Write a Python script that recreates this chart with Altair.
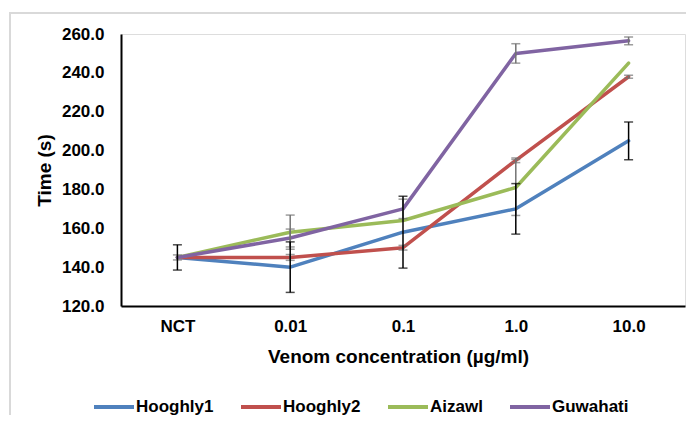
import altair as alt
import pandas as pd

categories = ["NCT", "0.01", "0.1", "1.0", "10.0"]
series_names = ["Hooghly1", "Hooghly2", "Aizawl", "Guwahati"]
colors = ["#4F81BD", "#C0504D", "#9BBB59", "#8064A2"]

hooghly1 = [145, 140, 158, 170, 205]
hooghly2 = [145, 145, 150, 195, 238]
aizawl = [145, 158, 164, 181, 245]
guwahati = [145, 155, 170, 250, 256.5]

hooghly1_err = [6.5, 13, 18.5, 13, 9.7]
hooghly2_err = [0, 1.5, 1.2, 1.2, 0.8]
aizawl_err = [0, 8.8, 0, 14.4, 0]
guwahati_err = [1.3, 4.6, 5, 5, 2]

y_ticks = [120, 140, 160, 180, 200, 220, 240, 260]

values = [hooghly1, hooghly2, aizawl, guwahati]
errors = [hooghly1_err, hooghly2_err, aizawl_err, guwahati_err]

rows = []
for name, vals, errs in zip(series_names, values, errors):
    for i, (c, v, e) in enumerate(zip(categories, vals, errs)):
        rows.append({"conc": c, "series": name, "time": v, "err": e,
                     "lo": v - e, "hi": v + e, "order": i})
df = pd.DataFrame(rows)

FONT = "Liberation Sans"
LBL = 17
TTL = 19

x_axis = alt.Axis(title="Venom concentration (µg/ml)", labelAngle=0,
                  tickSize=0, labelPadding=12, titlePadding=13, titleX=277,
                  domainColor="black", domainWidth=2,
                  labelFont=FONT, labelFontSize=LBL, labelFontWeight="bold",
                  labelColor="black", titleFont=FONT, titleFontSize=TTL,
                  titleFontWeight="bold", titleColor="black", grid=False)
x_scale = alt.Scale(type="point", padding=0.5)

y_axis = alt.Axis(title="Time (s)", values=y_ticks,
                  format=".1f", tickSize=0, labelPadding=17, titlePadding=7,
                  labelOverlap=False, labelFlush=False,
                  domainColor="black", domainWidth=2, grid=False,
                  labelFont=FONT, labelFontSize=LBL, labelFontWeight="bold",
                  labelColor="black", titleFont=FONT, titleFontSize=TTL,
                  titleFontWeight="bold", titleColor="black")
y_scale = alt.Scale(domain=[120, 260], nice=False, zero=False)


def xenc():
    return alt.X("conc:O", sort=categories, scale=x_scale, axis=x_axis)


def yenc(field):
    return alt.Y(f"{field}:Q", scale=y_scale, axis=y_axis)


lines = alt.Chart(df).mark_line(strokeWidth=3.5, strokeJoin="round", strokeCap="round").encode(
    x=xenc(),
    y=yenc("time"),
    color=alt.Color("series:N", sort=series_names,
                    scale=alt.Scale(domain=series_names, range=colors),
                    legend=alt.Legend(title=None, orient="none", direction="horizontal",
                                      legendX=-29, legendY=351, padding=0,
                                      symbolType="stroke", symbolSize=1600,
                                      symbolStrokeWidth=4, labelOffset=0,
                                      columnPadding=19, labelFont=FONT,
                                      labelFontSize=LBL, labelFontWeight="bold",
                                      labelColor="black", labelLimit=300)),
    order="order:Q",
)

err_df = df[df["err"] > 0]
black_df = err_df[err_df["series"] == "Hooghly1"]
gray_df = err_df[err_df["series"] != "Hooghly1"]


def err_layers(d, col):
    base = alt.Chart(d)
    r = base.mark_rule(color=col, strokeWidth=1.5).encode(
        x=xenc(), y=yenc("lo"), y2="hi:Q")
    t1 = base.mark_tick(color=col, size=9, thickness=1.5).encode(
        x=xenc(), y=yenc("lo"))
    t2 = base.mark_tick(color=col, size=9, thickness=1.5).encode(
        x=xenc(), y=yenc("hi"))
    return [r, t1, t2]


frame = alt.Chart(pd.DataFrame({"a": [0]})).mark_rect(
    fill=None, stroke="#D9D9D9", strokeWidth=2).encode(
    x=alt.value(-111), x2=alt.value(600), y=alt.value(-21), y2=alt.value(420))

chart = alt.layer(
    frame, lines, *err_layers(gray_df, "#737373"), *err_layers(black_df, "black")
).properties(
    width=564, height=272,
    padding={"left": 113, "top": 26, "right": 1, "bottom": 109},
    autosize=alt.AutoSizeParams(type="none"),
).configure_view(strokeWidth=0, stroke="transparent").configure(background="white")

chart.save("out.html", embed_options={"renderer": "svg", "actions": False})
